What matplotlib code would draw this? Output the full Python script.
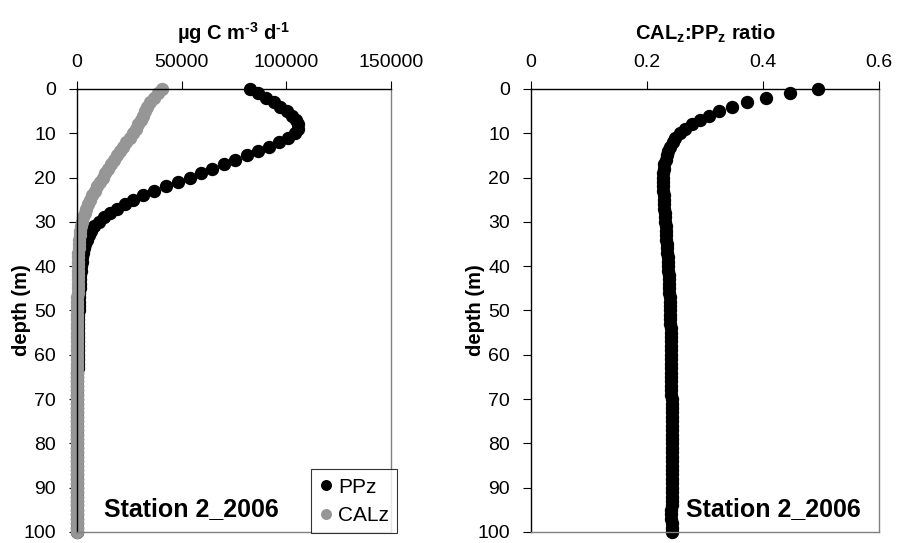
import matplotlib
matplotlib.use('Agg')
import matplotlib.pyplot as plt

plt.rcParams['font.family'] = ['Liberation Sans', 'DejaVu Sans']
plt.rcParams['mathtext.fontset'] = 'custom'
plt.rcParams['mathtext.rm'] = 'Liberation Sans:bold'
plt.rcParams['mathtext.bf'] = 'Liberation Sans:bold'

# depth (m), 1 m steps from surface to 100 m
depth = list(range(101))

# primary production PPz (ug C m-3 d-1)
ppz = [82600, 86500, 90300, 94000, 97200, 100200, 102600, 104400, 105500, 105700,
       104200, 100800, 96600, 91800, 86600, 81200, 75700, 70200, 64700, 59300,
       54000, 48300, 42500, 36800, 31600, 26900, 22800, 19200, 15800, 12800,
       10300, 8300, 6800, 5600, 4700, 4000, 3400, 2950, 2600, 2300,
       2050, 1850, 1650, 1500, 1350, 1220, 1100, 1000, 920, 840,
       770, 710, 650, 600, 550, 510, 470, 430, 400, 370,
       340, 310, 285, 260, 240, 220, 205, 190, 175, 160,
       148, 136, 125, 115, 106, 98, 90, 83, 76, 70,
       65, 60, 55, 51, 47, 43, 40, 37, 34, 31,
       29, 27, 25, 23, 21, 19, 18, 16, 15, 14, 13]

# calcification CALz (ug C m-3 d-1)
calz = [40800, 38700, 36600, 35100, 33600, 32500, 31400, 30400, 29200, 28000,
        26700, 25100, 23600, 22000, 20500, 19000, 17600, 16100, 14800, 13500,
        12300, 11000, 9670, 8390, 7220, 6160, 5230, 4420, 3640, 2960,
        2380, 1930, 1580, 1300, 1100, 936, 797, 693, 612, 543,
        485, 438, 392, 356, 321, 291, 262, 239, 220, 201,
        185, 170, 156, 144, 132, 123, 113, 104, 96.5, 89.3,
        82.1, 74.9, 68.8, 62.8, 58.0, 53.1, 49.5, 45.9, 42.3, 38.7,
        35.8, 32.9, 30.2, 27.8, 25.6, 23.7, 21.8, 20.1, 18.4, 16.9,
        15.7, 14.5, 13.3, 12.4, 11.4, 10.4, 9.7, 9.0, 8.2, 7.5,
        7.0, 6.5, 6.1, 5.6, 5.1, 4.6, 4.3, 3.9, 3.6, 3.4, 3.2]

# CALz:PPz ratio
ratio = [0.494, 0.447, 0.405, 0.373, 0.346, 0.324, 0.306, 0.291, 0.277, 0.265,
         0.256, 0.249, 0.244, 0.240, 0.237, 0.234, 0.232, 0.230, 0.229, 0.228,
         0.2275, 0.2273, 0.2275, 0.228, 0.2285, 0.229, 0.2295, 0.230, 0.2305, 0.231,
         0.2315, 0.232, 0.2325, 0.233, 0.2335, 0.234, 0.2345, 0.235, 0.2355, 0.236,
         0.2365, 0.237, 0.2373, 0.2376, 0.238, 0.2383, 0.2386, 0.239, 0.2393, 0.2396,
         0.2399, 0.240, 0.2402, 0.2404, 0.2406, 0.2408, 0.241, 0.2411, 0.2412, 0.2413,
         0.2414, 0.2415, 0.2416, 0.2417, 0.2418, 0.2419, 0.242, 0.242, 0.2421, 0.2421,
         0.2422, 0.2422, 0.2422, 0.2423, 0.2423, 0.2423, 0.2423, 0.2424, 0.2424, 0.2424,
         0.2424, 0.2424, 0.2425, 0.2425, 0.2425, 0.2425, 0.2425, 0.2425, 0.2425, 0.2425,
         0.2425, 0.2425, 0.2425, 0.2425, 0.2425, 0.2418, 0.2412, 0.2415, 0.2422, 0.2425, 0.2425]

grey = '#969696'
spine_grey = '#808080'
ms = 8.6

fig = plt.figure(figsize=(8.97, 5.43), dpi=100)
ax1 = fig.add_axes([0.0858, 0.0203, 0.3501, 0.8158])
ax2 = fig.add_axes([0.592, 0.0203, 0.388, 0.8158])


def style_axes(ax, label_x):
    ax.set_ylim(100, 0)
    ax.set_yticks(range(0, 101, 10))
    ax.xaxis.tick_top()
    ax.xaxis.set_label_position('top')
    ax.tick_params(axis='x', direction='out', length=6, width=0.8, pad=7, labelsize=14)
    ax.tick_params(axis='y', direction='out', length=6, width=0.8, pad=9, labelsize=14)
    ax.spines['top'].set_color('black')
    ax.spines['left'].set_color('black')
    ax.spines['right'].set_color(spine_grey)
    ax.spines['bottom'].set_color(spine_grey)
    for s in ax.spines.values():
        s.set_linewidth(1.0)
    # label sits over the tick labels, as in the original
    ax.set_ylabel('depth (m)', fontsize=14.5, fontweight='bold')
    ax.yaxis.set_label_coords(label_x, 0.5)


# left panel
ax1.plot(ppz, depth, 'o', color='black', markersize=ms, label='PPz', clip_on=False)
ax1.plot(calz, depth, 'o', color=grey, markersize=ms, label='CALz', clip_on=False)
style_axes(ax1, -0.145)
ax1.set_xlim(0, 150000)
ax1.set_xticks([0, 50000, 100000, 150000])
ax1.set_xticklabels(['0', '50000', '100000', '150000'])
ax1.set_xlabel(r'µg C m$^{\text{-3}}$ d$^{\text{-1}}$', fontsize=14.5, fontweight='bold', labelpad=10)
ax1.text(0.085, 0.035, 'Station 2_2006', transform=ax1.transAxes, fontsize=18, fontweight='bold')
leg = ax1.legend(loc='lower right', bbox_to_anchor=(1.02, -0.003), fontsize=15, frameon=True,
                 fancybox=False, edgecolor='black', markerscale=0.8, handlelength=0.6,
                 handletextpad=0.3, borderpad=0.4, labelspacing=0.45, borderaxespad=0)
leg.get_frame().set_linewidth(0.8)

# right panel
ax2.plot(ratio, depth, 'o', color='black', markersize=ms, clip_on=False)
style_axes(ax2, -0.131)
ax2.set_xlim(0, 0.6)
ax2.set_xticks([0, 0.2, 0.4, 0.6])
ax2.set_xticklabels(['0', '0.2', '0.4', '0.6'])
ax2.set_xlabel(r'CAL$_{\mathbf{z}}$:PP$_{\mathbf{z}}$ ratio', fontsize=14.5, fontweight='bold', labelpad=10)
ax2.text(0.445, 0.035, 'Station 2_2006', transform=ax2.transAxes, fontsize=18, fontweight='bold')

fig.savefig('out.png', dpi=100)
